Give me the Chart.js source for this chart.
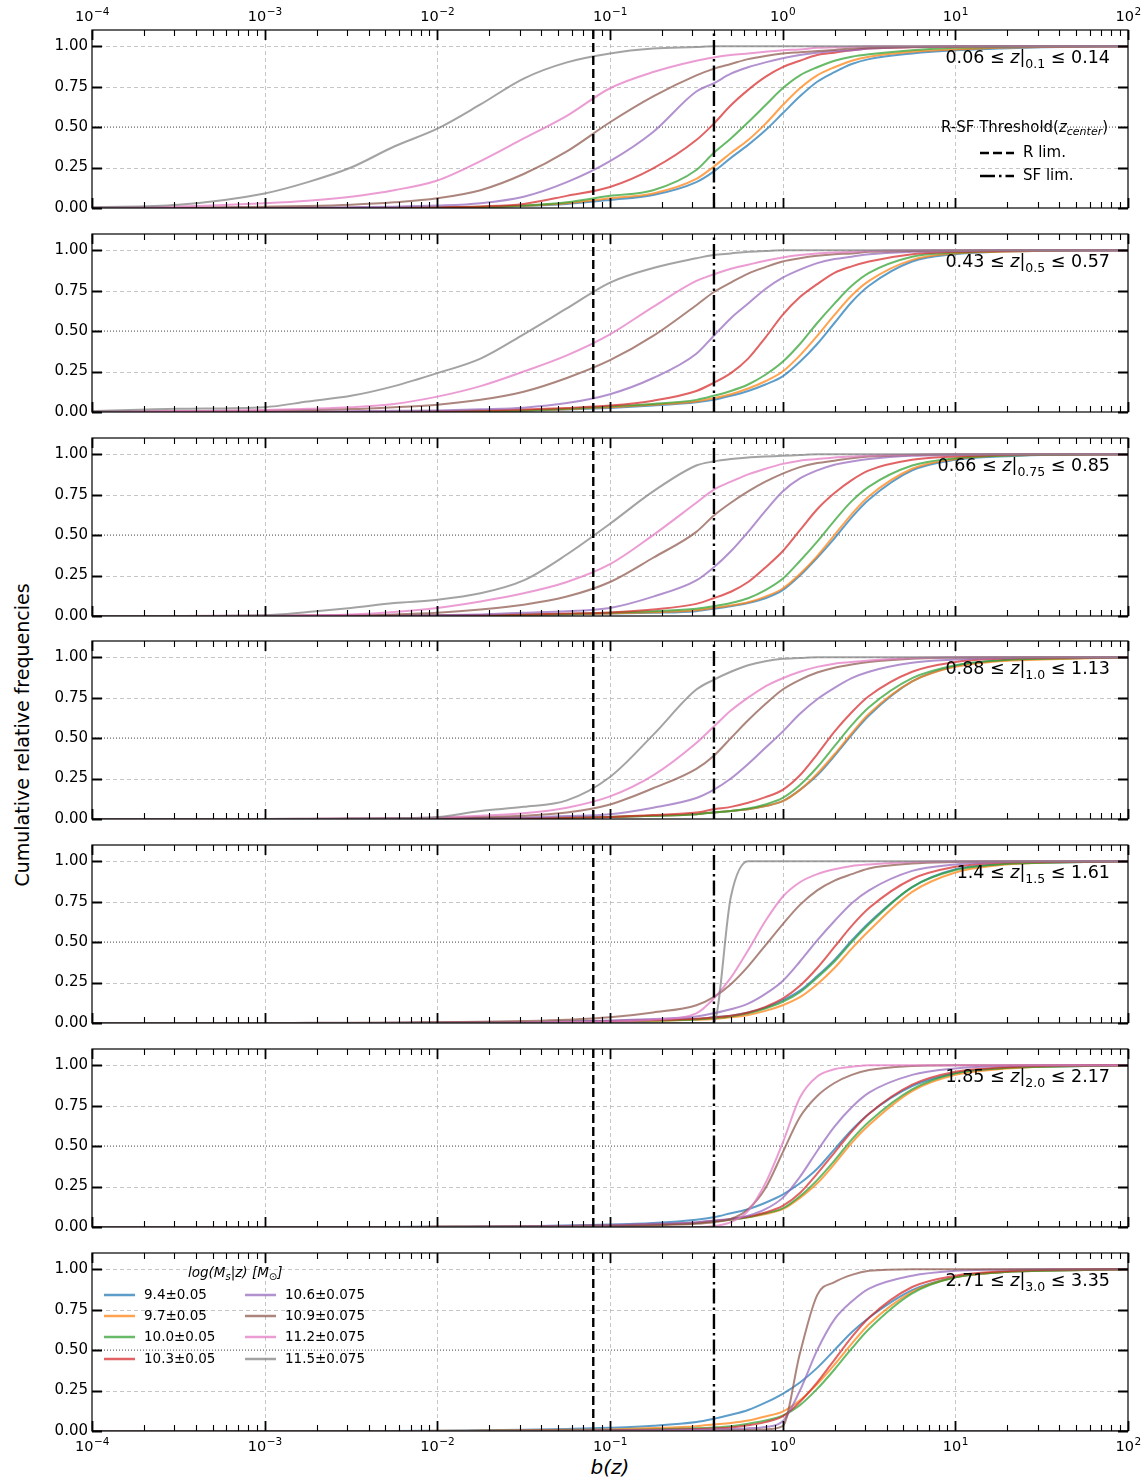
<!DOCTYPE html>
<html>
<head>
<meta charset="utf-8">
<script src="https://cdn.jsdelivr.net/npm/chart.js@4.4.0/dist/chart.umd.min.js"></script>
<style>
  body { margin: 0; background: #fff; width: 1148px; height: 1483px; position: relative; overflow: hidden;
         font-family: "DejaVu Sans", sans-serif; color: #000; }
  .panel { position: absolute; left: 0; width: 1148px; height: 238px; }
  .zlab { position: absolute; right: 38px; font-size: 17.5px; line-height: 20px; white-space: nowrap; }
  .zlab sub { font-size: 12.5px; vertical-align: -5px; }
  .thr { position: absolute; font-size: 15px; white-space: nowrap; }
  .thr sub { font-size: 11px; vertical-align: -3px; }
  .leg { position: absolute; font-size: 13.5px; white-space: nowrap; }
  .leg sub { font-size: 10px; vertical-align: -3px; }
  .ytitle { position: absolute; left: 22px; top: 735px; font-size: 19px; white-space: nowrap;
            transform: translate(-50%, -50%) rotate(-90deg); }
  .xtitle { position: absolute; left: 610px; top: 1467px; font-size: 20px; font-style: italic;
            transform: translate(-50%, -50%); }
</style>
</head>
<body>

<div class="ytitle">Cumulative relative frequencies</div>
<div class="xtitle">b(z)</div>

<script>
// log10(b) grid the curves were read on
const logB = [-4, -3.5, -3, -2.75, -2.5, -2.25, -2, -1.75, -1.5, -1.25, -1, -0.75,
              -0.5, -0.4, -0.3, -0.2, -0.1, 0, 0.1, 0.2, 0.3, 0.4, 0.5, 0.75, 1, 1.25, 1.5, 2];

const massLabels = ["9.4±0.05", "9.7±0.05", "10.0±0.05", "10.3±0.05",
                    "10.6±0.075", "10.9±0.075", "11.2±0.075", "11.5±0.075"];
const lineColors = ["#1f77b4", "#ff7f0e", "#2ca02c", "#d62728",
                    "#9467bd", "#8c564b", "#e377c2", "#7f7f7f"];

// redshift bins: low, center, high
const zBins = [["0.06", "0.1", "0.14"], ["0.43", "0.5", "0.57"], ["0.66", "0.75", "0.85"],
               ["0.88", "1.0", "1.13"], ["1.4", "1.5", "1.61"], ["1.85", "2.0", "2.17"],
               ["2.71", "3.0", "3.35"]];

const rLim = 0.08;
const sfLim = 0.4;
const yTicks = [0, 0.25, 0.5, 0.75, 1];
const xTicks = [1e-4, 1e-3, 1e-2, 1e-1, 1, 10, 100];

// cumulative frequencies per panel, one row per mass bin (blue ... grey)
const p1 = [
  [0,0,0,0,0,0,.002,.005,.012,.025,.05,.08,.16,.225,.31,.39,.48,.585,.69,.78,.84,.89,.92,.955,.975,.985,.993,1],
  [0,0,0,0,0,0,.002,.006,.014,.03,.06,.09,.18,.255,.34,.42,.52,.635,.74,.82,.87,.91,.935,.965,.98,.99,.995,1],
  [0,0,0,0,0,.001,.003,.007,.015,.035,.075,.11,.235,.34,.43,.53,.635,.74,.82,.87,.91,.935,.95,.975,.99,.995,1,1],
  [0,0,0,0,.001,.002,.005,.01,.025,.075,.13,.245,.42,.52,.635,.73,.81,.87,.91,.945,.96,.975,.985,.993,.997,1,1,1],
  [0,0,.002,.003,.005,.008,.015,.03,.07,.16,.29,.47,.72,.77,.83,.87,.90,.925,.945,.96,.97,.975,.985,.995,1,1,1,1],
  [0,.002,.008,.012,.02,.035,.06,.11,.21,.35,.53,.69,.82,.86,.89,.92,.94,.955,.963,.97,.977,.985,.99,.995,1,1,1,1],
  [.003,.01,.03,.045,.07,.11,.17,.29,.43,.57,.74,.84,.91,.93,.945,.955,.965,.975,.98,.99,.993,.996,1,1,1,1,1,1],
  [.005,.02,.09,.16,.25,.38,.49,.64,.80,.90,.955,.985,.995,1,1,1,1,1,1,1,1,1,1,1,1,1,1,1]
];
const p2 = [
  [0,0,0,0,0,0,.002,.004,.008,.015,.025,.04,.06,.075,.10,.13,.17,.22,.31,.42,.55,.68,.78,.93,.975,.99,.995,1],
  [0,0,0,0,0,0,.003,.006,.01,.017,.03,.045,.065,.085,.11,.145,.19,.25,.35,.47,.60,.72,.81,.94,.98,.99,.997,1],
  [0,0,0,0,0,.001,.004,.007,.01,.02,.035,.05,.075,.10,.13,.17,.23,.31,.42,.55,.67,.78,.86,.96,.985,.995,1,1],
  [0,0,0,0,.001,.002,.005,.01,.015,.025,.04,.07,.13,.18,.24,.33,.46,.60,.71,.79,.86,.90,.93,.975,.99,.995,1,1],
  [0,0,.002,.003,.005,.007,.01,.017,.027,.055,.11,.21,.36,.47,.58,.67,.76,.83,.88,.92,.945,.96,.975,.99,.995,1,1,1],
  [.002,.005,.008,.012,.018,.03,.045,.075,.125,.21,.32,.47,.66,.74,.80,.855,.895,.93,.95,.965,.975,.98,.99,.995,1,1,1,1],
  [.003,.006,.012,.02,.03,.05,.095,.16,.25,.35,.48,.65,.81,.85,.885,.91,.935,.955,.97,.98,.985,.99,.995,1,1,1,1,1],
  [.005,.02,.03,.065,.10,.16,.24,.33,.48,.64,.80,.89,.95,.97,.98,.99,.995,1,1,1,1,1,1,1,1,1,1,1]
];
const p3 = [
  [0,0,0,0,0,0,.002,.004,.006,.01,.015,.02,.03,.045,.06,.08,.11,.16,.25,.36,.48,.61,.72,.90,.965,.985,.995,1],
  [0,0,0,0,0,0,.002,.004,.007,.011,.016,.023,.035,.05,.065,.085,.12,.17,.26,.37,.50,.63,.74,.91,.97,.99,.995,1],
  [0,0,0,0,0,0,.003,.005,.008,.012,.02,.03,.045,.06,.08,.11,.16,.23,.34,.46,.59,.71,.80,.93,.975,.99,.995,1],
  [0,0,0,0,0,.001,.003,.006,.01,.015,.022,.04,.075,.11,.15,.21,.30,.40,.53,.66,.76,.84,.90,.965,.985,.995,1,1],
  [0,0,0,0,.002,.003,.005,.01,.02,.03,.05,.12,.22,.30,.40,.52,.65,.77,.85,.90,.935,.955,.97,.99,.995,1,1,1],
  [0,0,.002,.004,.006,.01,.02,.04,.07,.12,.21,.36,.52,.62,.70,.77,.83,.88,.92,.945,.96,.975,.985,.995,1,1,1,1],
  [0,0,.003,.005,.01,.025,.05,.09,.14,.21,.32,.50,.70,.78,.83,.875,.91,.94,.96,.97,.98,.985,.99,.997,1,1,1,1],
  [0,0,.005,.025,.05,.08,.10,.14,.22,.38,.57,.77,.93,.955,.97,.98,.985,.99,.995,1,1,1,1,1,1,1,1,1]
];
const p4 = [
  [0,0,0,0,0,0,.002,.003,.005,.008,.012,.02,.03,.04,.05,.06,.08,.11,.18,.27,.39,.52,.64,.85,.945,.98,.99,1],
  [0,0,0,0,0,0,.002,.003,.005,.008,.012,.02,.03,.04,.05,.06,.08,.11,.18,.28,.40,.53,.65,.85,.94,.975,.985,1],
  [0,0,0,0,0,0,.002,.003,.005,.008,.013,.02,.03,.04,.05,.065,.09,.13,.21,.32,.45,.58,.69,.87,.95,.98,.99,1],
  [0,0,0,0,0,.001,.002,.004,.005,.008,.013,.025,.04,.06,.075,.10,.135,.18,.27,.40,.54,.66,.76,.91,.97,.99,.995,1],
  [0,0,0,0,.001,.002,.003,.006,.01,.018,.03,.07,.13,.18,.25,.34,.44,.54,.65,.74,.81,.87,.91,.965,.985,.995,1,1],
  [0,0,0,0,.002,.004,.006,.012,.02,.04,.09,.19,.31,.39,.50,.61,.71,.80,.86,.905,.935,.955,.97,.99,.997,1,1,1],
  [0,0,0,.002,.004,.006,.01,.02,.035,.07,.14,.27,.47,.57,.67,.75,.82,.87,.91,.94,.96,.97,.98,.995,1,1,1,1],
  [0,0,0,.001,.003,.005,.012,.05,.075,.115,.26,.52,.80,.86,.91,.95,.975,.99,.995,1,1,1,1,1,1,1,1,1]
];
const p5 = [
  [0,0,0,0,0,0,.002,.003,.005,.008,.012,.017,.025,.035,.045,.065,.095,.14,.20,.29,.39,.51,.62,.84,.95,.98,.99,1],
  [0,0,0,0,0,0,.001,.002,.004,.006,.01,.013,.02,.025,.035,.05,.075,.11,.16,.24,.34,.46,.57,.81,.93,.975,.99,1],
  [0,0,0,0,0,0,.001,.003,.005,.007,.011,.015,.022,.03,.04,.06,.09,.13,.19,.28,.38,.50,.61,.84,.945,.98,.99,1],
  [0,0,0,0,0,0,.002,.003,.005,.008,.012,.018,.027,.035,.045,.065,.10,.15,.23,.34,.47,.60,.71,.89,.965,.99,.995,1],
  [0,0,0,0,0,.001,.002,.003,.005,.009,.015,.025,.04,.06,.085,.12,.18,.26,.38,.51,.63,.74,.82,.94,.98,.995,1,1],
  [0,0,0,.001,.002,.003,.004,.007,.012,.02,.035,.065,.11,.16,.24,.35,.48,.61,.73,.82,.88,.92,.955,.985,.995,1,1,1],
  [0,0,0,0,0,0,.001,.002,.003,.006,.01,.02,.06,.15,.28,.45,.63,.78,.87,.92,.95,.97,.98,.995,1,1,1,1],
  [0,0,0,0,0,0,0,0,0,0,0,0,0,0,.78,1,1,1,1,1,1,1,1,1,1,1,1,1]
];
const p6 = [
  [0,0,0,0,0,0,.002,.003,.005,.01,.015,.025,.045,.06,.085,.11,.15,.20,.27,.36,.48,.60,.70,.87,.95,.98,.99,1],
  [0,0,0,0,0,0,.001,.002,.003,.006,.01,.015,.025,.035,.045,.06,.08,.11,.18,.27,.39,.52,.63,.84,.94,.975,.99,1],
  [0,0,0,0,0,0,.001,.002,.003,.006,.01,.015,.025,.035,.045,.06,.085,.115,.19,.29,.41,.54,.65,.85,.95,.98,.99,1],
  [0,0,0,0,0,0,.001,.002,.003,.006,.01,.016,.027,.037,.05,.065,.09,.13,.21,.33,.46,.59,.70,.88,.96,.985,.995,1],
  [0,0,0,0,0,0,.001,.003,.005,.008,.012,.02,.03,.04,.05,.07,.11,.18,.31,.47,.62,.74,.83,.94,.98,.995,1,1],
  [0,0,0,0,0,0,0,.001,.002,.003,.005,.01,.02,.03,.05,.11,.24,.46,.68,.81,.89,.94,.97,.995,1,1,1,1],
  [0,0,0,0,0,0,0,0,0,0,0,0,0,.005,.03,.10,.27,.52,.80,.93,.975,.99,1,1,1,1,1,1],
  [0,0,0,0,0,0,0,0,0,0,0,0,0,0,0,0,0,0,0,0,0,0,0,0,0,0,0,0]
];
const p7 = [
  [0,0,0,0,0,0,.002,.004,.008,.013,.02,.032,.055,.075,.10,.13,.175,.23,.30,.39,.50,.61,.70,.87,.95,.98,.99,1],
  [0,0,0,0,0,0,.001,.002,.004,.007,.01,.018,.03,.04,.05,.065,.09,.12,.19,.29,.41,.54,.66,.86,.95,.98,.99,1],
  [0,0,0,0,0,0,0,.001,.002,.004,.006,.01,.017,.022,.03,.045,.065,.095,.16,.26,.38,.51,.63,.85,.95,.98,.99,1],
  [0,0,0,0,0,0,0,.001,.002,.003,.004,.007,.012,.016,.022,.035,.055,.09,.18,.30,.44,.58,.70,.89,.96,.985,.995,1],
  [0,0,0,0,0,0,0,0,.001,.002,.003,.005,.008,.01,.013,.017,.025,.06,.25,.50,.69,.80,.88,.96,.99,.997,1,1],
  [0,0,0,0,0,0,0,0,0,0,0,0,0,.002,.004,.006,.01,.03,.48,.84,.92,.965,.99,1,1,1,1,1],
  [0,0,0,0,0,0,0,0,0,0,0,0,0,0,0,0,0,0,0,0,0,0,0,0,0,0,0,0],
  [0,0,0,0,0,0,0,0,0,0,0,0,0,0,0,0,0,0,0,0,0,0,0,0,0,0,0,0]
];

const panels = [p1, p2, p3, p4, p5, p6, p7];
const panelTops = [30, 234, 438, 641, 845, 1049, 1253];
const PLOT_H = 178;

function rgba(hex, a) {
  const n = parseInt(hex.slice(1), 16);
  return "rgba(" + (n >> 16) + "," + ((n >> 8) & 255) + "," + (n & 255) + "," + a + ")";
}

// "10" with a raised exponent, centred on the tick like matplotlib
function drawPowerLabel(ctx, px, baseY, v) {
  const e = Math.round(Math.log10(v));
  const ex = e < 0 ? "\u2212" + (-e) : String(e);
  ctx.font = "14.5px 'DejaVu Sans', sans-serif";
  const w1 = ctx.measureText("10").width;
  ctx.font = "10.5px 'DejaVu Sans', sans-serif";
  const w2 = ctx.measureText(ex).width;
  const left = px - (w1 + w2) / 2;
  ctx.textAlign = "left";
  ctx.textBaseline = "alphabetic";
  ctx.font = "14.5px 'DejaVu Sans', sans-serif";
  ctx.fillText("10", left, baseY);
  ctx.font = "10.5px 'DejaVu Sans', sans-serif";
  ctx.fillText(ex, left + w1 + 0.5, baseY - 6);
}

// grid lines under the curves, inward ticks and frame on top (matplotlib look)
const framePlugin = {
  id: "frame",
  beforeDatasetsDraw(chart) {
    const ctx = chart.ctx;
    const a = chart.chartArea;
    const x = chart.scales.x, y = chart.scales.y;
    ctx.save();
    ctx.strokeStyle = "rgba(176,176,176,0.9)";
    ctx.lineWidth = 0.8;
    ctx.setLineDash([4, 3]);
    xTicks.slice(1, -1).forEach(v => {
      const px = Math.round(x.getPixelForValue(v)) + 0.5;
      ctx.beginPath(); ctx.moveTo(px, a.top); ctx.lineTo(px, a.bottom); ctx.stroke();
    });
    [0.25, 0.75, 1].forEach(v => {
      const py = Math.round(y.getPixelForValue(v)) + 0.5;
      ctx.beginPath(); ctx.moveTo(a.left, py); ctx.lineTo(a.right, py); ctx.stroke();
    });
    ctx.restore();
  },
  afterDatasetsDraw(chart) {
    const ctx = chart.ctx;
    const a = chart.chartArea;
    const x = chart.scales.x, y = chart.scales.y;
    ctx.save();
    ctx.strokeStyle = "#000";
    ctx.setLineDash([]);
    // x ticks, major and minor, top and bottom
    for (let e = -4; e <= 2; e++) {
      for (let m = 1; m <= 9; m++) {
        const v = m * Math.pow(10, e);
        if (v > 100.0001) break;
        const px = Math.round(x.getPixelForValue(v)) + 0.5;
        const len = m === 1 ? 10 : 6;
        ctx.lineWidth = m === 1 ? 1.8 : 1.1;
        ctx.beginPath();
        ctx.moveTo(px, a.bottom); ctx.lineTo(px, a.bottom - len);
        ctx.moveTo(px, a.top); ctx.lineTo(px, a.top + len);
        ctx.stroke();
      }
    }
    // y ticks left and right
    ctx.lineWidth = 1.8;
    yTicks.forEach(v => {
      const py = Math.round(y.getPixelForValue(v)) + 0.5;
      ctx.beginPath();
      ctx.moveTo(a.left, py); ctx.lineTo(a.left + 10, py);
      ctx.moveTo(a.right, py); ctx.lineTo(a.right - 10, py);
      ctx.stroke();
    });
    ctx.lineWidth = 1.2;
    ctx.strokeRect(a.left, a.top, a.right - a.left, a.bottom - a.top);

    // power-of-ten labels on the outer x axes
    ctx.fillStyle = "#000";
    if (chart.options.scales.x2.display) {
      xTicks.forEach(v => drawPowerLabel(ctx, x.getPixelForValue(v), a.top - 9, v));
    }
    if (chart.options.scales.x.display) {
      xTicks.forEach(v => drawPowerLabel(ctx, x.getPixelForValue(v), a.bottom + 20, v));
    }
    ctx.restore();
  }
};

const tickFont = { family: "'DejaVu Sans', sans-serif", size: 15 };

function xAxis(position, show) {
  return {
    type: "logarithmic",
    position: position,
    min: 1e-4,
    max: 1e2,
    display: show,
    grid: { display: false, drawTicks: false },
    border: { display: false },
    afterBuildTicks: s => { s.ticks = xTicks.map(v => ({ value: v })); },
    afterFit: s => { if (show) s.height = 30; },
    ticks: { display: false }
  };
}

function makePanel(i) {
  const wrap = document.createElement("div");
  wrap.className = "panel";
  wrap.style.top = (panelTops[i] - 30) + "px";
  const canvas = document.createElement("canvas");
  canvas.width = 1148;
  canvas.height = PLOT_H + 60;
  wrap.appendChild(canvas);
  document.body.appendChild(wrap);

  const datasets = [];
  panels[i].forEach((vals, k) => {
    datasets.push({
      data: logB.map((lg, j) => ({ x: Math.pow(10, lg), y: vals[j] })),
      borderColor: rgba(lineColors[k], 0.72),
      borderWidth: 2,
      cubicInterpolationMode: "monotone",
      order: 20 - k
    });
  });
  // R / SF threshold lines
  datasets.push({
    data: [{ x: rLim, y: 0 }, { x: rLim, y: 1.1 }],
    borderColor: "#000", borderWidth: 2.4, borderDash: [9, 4], order: 1
  });
  datasets.push({
    data: [{ x: sfLim, y: 0 }, { x: sfLim, y: 1.1 }],
    borderColor: "#000", borderWidth: 2.4, borderDash: [15, 4, 2.5, 4], order: 1
  });
  // half-way reference line
  datasets.push({
    data: [{ x: 1e-4, y: 0.5 }, { x: 1e2, y: 0.5 }],
    borderColor: "rgba(0,0,0,0.75)", borderWidth: 1, borderDash: [1, 2], order: 40
  });

  new Chart(canvas, {
    type: "line",
    data: { datasets: datasets },
    options: {
      responsive: false,
      animation: false,
      events: [],
      layout: { padding: { left: 0, right: 20, top: i === 0 ? 0 : 30, bottom: i === 6 ? 0 : 30 } },
      elements: { point: { radius: 0 } },
      plugins: { legend: { display: false }, tooltip: { enabled: false } },
      scales: {
        x: xAxis("bottom", i === 6),
        x2: xAxis("top", i === 0),
        y: {
          min: 0,
          max: 1.1,
          grid: { display: false, drawTicks: false },
          border: { display: false },
          afterBuildTicks: s => { s.ticks = yTicks.map(v => ({ value: v })); },
          afterFit: s => { s.width = 92; },
          ticks: { callback: v => v.toFixed(2), font: tickFont, color: "#000", padding: 4 }
        }
      }
    },
    plugins: [framePlugin]
  });

  const z = document.createElement("div");
  z.className = "zlab";
  z.style.top = (panelTops[i] + 17) + "px";
  z.innerHTML = zBins[i][0] + " ≤ <i>z</i>|<sub>" + zBins[i][1] + "</sub> ≤ " + zBins[i][2];
  document.body.appendChild(z);
}

for (let i = 0; i < panels.length; i++) makePanel(i);

// threshold legend (top panel)
function lineSample(dash) {
  return '<svg width="34" height="10" style="vertical-align:middle;margin-right:9px">' +
    '<line x1="0" y1="5" x2="34" y2="5" stroke="#000" stroke-width="2.4" stroke-dasharray="' + dash + '"/></svg>';
}
const thr = document.createElement("div");
thr.innerHTML =
  '<div class="thr" style="left:941px;top:118px">R-SF Threshold(<i>z</i><sub><i>center</i></sub>)</div>' +
  '<div class="thr" style="left:980px;top:143px">' + lineSample("9,4") + 'R lim.</div>' +
  '<div class="thr" style="left:980px;top:166px">' + lineSample("15,4,2.5,4") + 'SF lim.</div>';
document.body.appendChild(thr);

// mass legend (bottom panel)
const leg = document.createElement("div");
let html = '<div class="leg" style="left:188px;top:1264px;font-style:italic">log(M<sub>s</sub>|z) [M<sub>⊙</sub>]</div>';
const rowY = [1295, 1316, 1337, 1359];
massLabels.forEach((lab, k) => {
  const col = Math.floor(k / 4);
  const x0 = col === 0 ? 104 : 245;
  const y0 = rowY[k % 4];
  html += '<div class="leg" style="left:' + x0 + 'px;top:' + (y0 - 9) + 'px">' +
    '<svg width="32" height="18" style="vertical-align:middle;margin-right:8px">' +
    '<line x1="0" y1="9" x2="31" y2="9" stroke="' + rgba(lineColors[k], 0.72) + '" stroke-width="2.5"/></svg>' +
    lab + '</div>';
});
leg.innerHTML = html;
document.body.appendChild(leg);
</script>
</body>
</html>
